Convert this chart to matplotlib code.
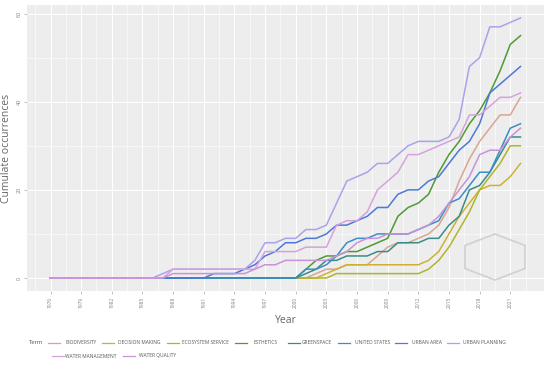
import matplotlib
matplotlib.use("Agg")
import matplotlib.pyplot as plt
from matplotlib.lines import Line2D
from matplotlib.patches import RegularPolygon

plt.rcParams['font.family'] = ['Open Sans', 'DejaVu Sans']

years = list(range(1976, 2023))

terms = ["BIODIVERSITY", "DECISION MAKING", "ECOSYSTEM SERVICE", "ESTHETICS",
         "GREENSPACE", "UNITED STATES", "URBAN AREA", "URBAN PLANNING",
         "WATER MANAGEMENT", "WATER QUALITY"]

biodiversity = [0]*26 + [1, 2, 2, 3, 3, 3, 5, 7, 8, 8, 9, 10, 12, 16, 22, 27, 31, 34, 37, 37, 41]
decision_making = [0]*27 + [1, 2, 3, 3, 3, 3, 3, 3, 3, 3, 4, 6, 10, 14, 17, 20, 21, 21, 23, 26]
ecosystem_service = [0]*28 + [1, 1, 1, 1, 1, 1, 1, 1, 1, 2, 4, 7, 11, 15, 20, 23, 26, 30, 30]
esthetics = [0]*25 + [2, 4, 5, 5, 6, 6, 7, 8, 9, 14, 16, 17, 19, 24, 28, 31, 35, 38, 42, 47, 53, 55]
greenspace = [0]*25 + [1, 2, 4, 4, 5, 5, 5, 6, 6, 8, 8, 8, 9, 9, 12, 14, 20, 21, 24, 28, 32, 32]
united_states = [0]*25 + [2, 2, 3, 5, 8, 9, 9, 10, 10, 10, 10, 11, 12, 13, 17, 18, 21, 24, 24, 29, 34, 35]
urban_area = [0]*16 + [1, 1, 1, 2, 3, 5, 6, 8, 8, 9, 9, 10, 12, 12, 13, 14, 16, 16, 19, 20, 20, 22,
                       23, 26, 29, 31, 35, 42, 44, 46, 48]
urban_planning = [0]*11 + [1, 2, 2, 2, 2, 2, 2, 2, 2, 4, 8, 8, 9, 9, 11, 11, 12, 17, 22, 23, 24, 26,
                           26, 28, 30, 31, 31, 31, 32, 36, 48, 50, 57, 57, 58, 59]
water_management = [0]*12 + [2]*9 + [6, 6, 6, 6, 7, 7, 7, 12, 13, 13, 15, 20, 22, 24, 28, 28, 29,
                                     30, 31, 32, 37, 37, 39, 41, 41, 42]
water_quality = [0]*12 + [1]*8 + [2, 3, 3, 4, 4, 4, 4, 4, 5, 6, 8, 9, 9, 10, 10, 10, 11, 12, 14, 17,
                                  20, 23, 28, 29, 29, 32, 34]

series = [biodiversity, decision_making, ecosystem_service, esthetics, greenspace,
          united_states, urban_area, urban_planning, water_management, water_quality]
colors = ["#D9A593", "#CDB131", "#B1B42A", "#4E9A34", "#3A8C86",
          "#3C8CC8", "#4C78D6", "#AAA2EA", "#D6A2DE", "#C893D8"]

xticks = list(range(1976, 2022, 3))
yticks = [0, 20, 40, 60]

W, H = 550, 365
fig = plt.figure(figsize=(W/100, H/100), dpi=100)
ax = fig.add_axes([27/W, 1-291/H, (544-27)/W, (291-5)/H])
ax.set_facecolor("#EDEDED")

for vals, c in zip(series, colors):
    ax.plot(years, vals, color=c, lw=1.1, solid_joinstyle='round')

ax.set_xlim(1973.7, 2024.3)
ax.set_ylim(-2.95, 61.95)
ax.set_xticks(xticks)
ax.set_xticklabels([str(y) for y in xticks], rotation=90, fontsize=3.5, color="#808080")
ax.set_xticks([x + 1.5 for x in xticks] + [1974.5], minor=True)
ax.set_yticks(yticks)
ax.set_yticklabels([str(y) for y in yticks], rotation=90, fontsize=4, color="#808080", va='center')
ax.set_yticks([10, 30, 50], minor=True)
ax.grid(which='major', color='white', lw=0.8)
ax.grid(which='minor', color='white', lw=0.4)
ax.set_axisbelow(True)
ax.tick_params(which='major', length=2, width=0.5, color='#aaaaaa', pad=2)
ax.tick_params(which='minor', length=0)
for s in ax.spines.values():
    s.set_visible(False)

ax.set_xlabel("Year", fontsize=7.5, color="#666666", labelpad=5)
ax.set_ylabel("Cumulate occurrences", fontsize=7.5, color="#666666", labelpad=3)

# watermark hexagon
hexagon = RegularPolygon((495/W, 1-257/H), numVertices=6, radius=23/H,
                         transform=fig.transFigure, facecolor='none',
                         edgecolor='#d2d2d2', lw=1.3)
fig.add_artist(hexagon)

# legend
def fx(px):
    return px / W

def fy(py):
    return 1 - py / H

fig.text(fx(29), fy(342), "Term", fontsize=4.2, color="#555555", va='center')
row1 = [(48, 65), (102, 118), (167, 182), (235, 253), (288, 302), (338, 355), (395, 412), (447, 463)]
row2 = [(52, 65), (123, 139)]
pos = row1 + row2
ys = [343]*8 + [356]*2
for (lx, tx), yy, name, c in zip(pos, ys, terms, colors):
    fig.add_artist(Line2D([fx(lx), fx(lx + 12)], [fy(yy), fy(yy)], color=c, lw=0.9,
                          transform=fig.transFigure))
    fig.text(fx(tx), fy(yy), name, fontsize=3.5, color="#555555", va='center')

fig.savefig("out.png", dpi=100)
